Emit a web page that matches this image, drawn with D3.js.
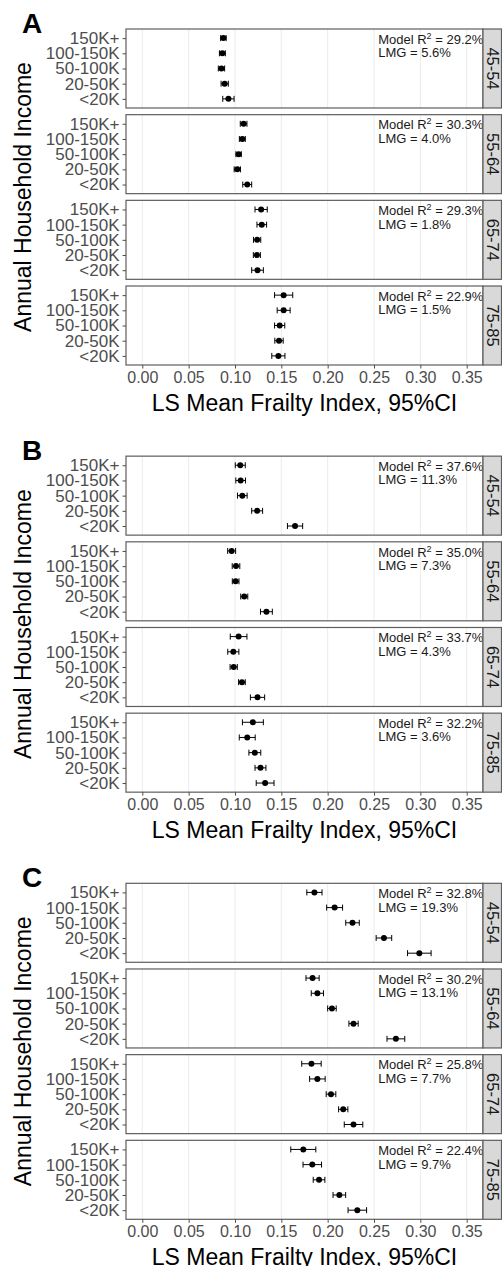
<!DOCTYPE html>
<html>
<head>
<meta charset="utf-8">
<script src="https://cdn.jsdelivr.net/npm/d3@7"></script>
<style>
  body { margin: 0; background: #fff; }
  text { font-family: "Liberation Sans", Arial, sans-serif; }
</style>
</head>
<body>
<div id="chart"></div>
<script>
// Categories
const panelLabels = ["A", "B", "C"];
const ageGroups = ["45-54", "55-64", "65-74", "75-85"];
const incomeLevels = ["150K+", "100-150K", "50-100K", "20-50K", "<20K"];
const xTicks = [0, 0.05, 0.1, 0.15, 0.2, 0.25, 0.3, 0.35];

// LS mean frailty index per panel, rows = age group, cols = income level
const meansA = [
  [0.0875, 0.0864, 0.0854, 0.0889, 0.0929],
  [0.1093, 0.1079, 0.1039, 0.1025, 0.1132],
  [0.1282, 0.1289, 0.1239, 0.1236, 0.1243],
  [0.1525, 0.1525, 0.1482, 0.1475, 0.1468]
];
const errA = [
  [0.0030, 0.0032, 0.0034, 0.0039, 0.0061],
  [0.0036, 0.0032, 0.0029, 0.0034, 0.0048],
  [0.0066, 0.0052, 0.0039, 0.0038, 0.0063],
  [0.0098, 0.0070, 0.0055, 0.0045, 0.0071]
];
const meansB = [
  [0.1057, 0.1061, 0.1079, 0.1239, 0.1648],
  [0.0964, 0.1011, 0.1007, 0.1100, 0.1339],
  [0.1039, 0.0982, 0.0986, 0.1075, 0.1243],
  [0.1193, 0.1132, 0.1214, 0.1275, 0.1325]
];
const errB = [
  [0.0054, 0.0052, 0.0052, 0.0059, 0.0082],
  [0.0043, 0.0041, 0.0036, 0.0038, 0.0064],
  [0.0090, 0.0060, 0.0039, 0.0036, 0.0077],
  [0.0113, 0.0086, 0.0064, 0.0059, 0.0096]
];
const meansC = [
  [0.1857, 0.2075, 0.2268, 0.2607, 0.2989],
  [0.1837, 0.1889, 0.2046, 0.2279, 0.2736],
  [0.1825, 0.1889, 0.2036, 0.2168, 0.2279],
  [0.1737, 0.1834, 0.1907, 0.2126, 0.2320]
];
const errC = [
  [0.0082, 0.0086, 0.0073, 0.0084, 0.0127],
  [0.0071, 0.0066, 0.0046, 0.0050, 0.0096],
  [0.0105, 0.0084, 0.0052, 0.0050, 0.0100],
  [0.0135, 0.0100, 0.0063, 0.0068, 0.0100]
];

// Model R2 and LMG annotations (%)
const r2A = ["29.2", "30.3", "29.3", "22.9"];
const lmgA = ["5.6", "4.0", "1.8", "1.5"];
const r2B = ["37.6", "35.0", "33.7", "32.2"];
const lmgB = ["11.3", "7.3", "4.3", "3.6"];
const r2C = ["32.8", "30.2", "25.8", "22.4"];
const lmgC = ["19.3", "13.1", "7.7", "9.7"];

const panels = [
  { label: panelLabels[0], means: meansA, err: errA, r2: r2A, lmg: lmgA },
  { label: panelLabels[1], means: meansB, err: errB, r2: r2B, lmg: lmgB },
  { label: panelLabels[2], means: meansC, err: errC, r2: r2C, lmg: lmgC }
];

const width = 502, height = 1266;
const panelStep = 427.15;
const plotLeft = 126, plotRight = 483, plotTop = 29, plotBottom = 365;
const stripWidth = 18.5;

const svg = d3.select("#chart").append("svg")
  .attr("width", width)
  .attr("height", height);

const x = d3.scaleLinear()
  .domain([-0.0176, 0.3676])
  .range([plotLeft, plotRight]);

const facetY = d3.scaleBand()
  .domain(ageGroups)
  .range([plotTop, plotBottom])
  .paddingInner(0.078)
  .paddingOuter(0);

panels.forEach((p, pi) => {
  const g = svg.append("g").attr("transform", `translate(0,${pi * panelStep})`);

  // panel letter
  g.append("text")
    .attr("x", 22)
    .attr("y", 33)
    .style("font-size", "28px")
    .style("font-weight", "bold")
    .attr("fill", "#000")
    .text(p.label);

  ageGroups.forEach((age, ai) => {
    const top = facetY(age);
    const h = facetY.bandwidth();
    const fg = g.append("g").attr("transform", `translate(0,${top})`);

    const y = d3.scalePoint()
      .domain(incomeLevels)
      .range([0, h])
      .padding(0.6);

    // panel background + grid
    fg.append("rect")
      .attr("x", plotLeft).attr("y", 0)
      .attr("width", plotRight - plotLeft).attr("height", h)
      .attr("fill", "#fff");

    fg.selectAll(".grid")
      .data(xTicks)
      .enter()
      .append("line")
      .attr("x1", (d) => x(d)).attr("x2", (d) => x(d))
      .attr("y1", 0).attr("y2", h)
      .attr("stroke", "#ebebeb")
      .attr("stroke-width", 1);

    // annotation
    const ann = fg.append("text")
      .attr("x", x(0.2545))
      .attr("y", 14.7)
      .style("font-size", "13px")
      .attr("fill", "#1a1a1a");
    ann.append("tspan").text("Model  R");
    ann.append("tspan").attr("dy", -5).style("font-size", "9px").text("2");
    ann.append("tspan").attr("dy", 5).text(" = " + p.r2[ai] + "%");
    fg.append("text")
      .attr("x", x(0.2545))
      .attr("y", 28.3)
      .style("font-size", "13px")
      .attr("fill", "#1a1a1a")
      .text("LMG  = " + p.lmg[ai] + "%");

    const rows = incomeLevels.map((lvl, li) => ({
      lvl,
      mean: p.means[ai][li],
      lo: p.means[ai][li] - p.err[ai][li],
      hi: p.means[ai][li] + p.err[ai][li]
    }));

    // error bars
    const eb = fg.selectAll(".eb").data(rows).enter().append("g");
    eb.append("line")
      .attr("x1", (d) => x(d.lo)).attr("x2", (d) => x(d.hi))
      .attr("y1", (d) => y(d.lvl)).attr("y2", (d) => y(d.lvl))
      .attr("stroke", "#000").attr("stroke-width", 1);
    eb.append("line")
      .attr("x1", (d) => x(d.lo)).attr("x2", (d) => x(d.lo))
      .attr("y1", (d) => y(d.lvl) - 3).attr("y2", (d) => y(d.lvl) + 3)
      .attr("stroke", "#000").attr("stroke-width", 1);
    eb.append("line")
      .attr("x1", (d) => x(d.hi)).attr("x2", (d) => x(d.hi))
      .attr("y1", (d) => y(d.lvl) - 3).attr("y2", (d) => y(d.lvl) + 3)
      .attr("stroke", "#000").attr("stroke-width", 1);

    fg.selectAll(".pt").data(rows).enter().append("circle")
      .attr("cx", (d) => x(d.mean))
      .attr("cy", (d) => y(d.lvl))
      .attr("r", 3)
      .attr("fill", "#000");

    // frame
    fg.append("rect")
      .attr("x", plotLeft).attr("y", 0)
      .attr("width", plotRight - plotLeft).attr("height", h)
      .attr("fill", "none")
      .attr("stroke", "#5e5e5e")
      .attr("stroke-width", 1.2);

    // strip
    fg.append("rect")
      .attr("x", plotRight).attr("y", 0)
      .attr("width", stripWidth).attr("height", h)
      .attr("fill", "#d9d9d9")
      .attr("stroke", "#5e5e5e")
      .attr("stroke-width", 1.2);
    fg.append("text")
      .attr("transform", `translate(${plotRight + 10},${h / 2}) rotate(90)`)
      .attr("text-anchor", "middle")
      .attr("dy", "0.35em")
      .style("font-size", "16.5px")
      .attr("fill", "#1a1a1a")
      .text(age);

    // y axis
    const yAxis = fg.append("g")
      .attr("transform", `translate(${plotLeft},0)`)
      .call(d3.axisLeft(y).tickSize(3.5).tickPadding(3));
    yAxis.select(".domain").remove();
    yAxis.selectAll("line").attr("stroke", "#4d4d4d");
    yAxis.selectAll("text")
      .style("font-size", "17px")
      .style("font-family", '"Liberation Sans", Arial, sans-serif')
      .attr("fill", "#4d4d4d");
  });

  // x axis
  const xAxis = g.append("g")
    .attr("transform", `translate(0,${plotBottom})`)
    .call(d3.axisBottom(x).tickValues(xTicks).tickFormat(d3.format(".2f")).tickSize(3.5).tickPadding(3));
  xAxis.select(".domain").remove();
  xAxis.selectAll("line").attr("stroke", "#4d4d4d");
  xAxis.selectAll("text")
    .style("font-size", "16px")
    .style("font-family", '"Liberation Sans", Arial, sans-serif')
    .attr("fill", "#4d4d4d");

  // axis titles
  g.append("text")
    .attr("x", (plotLeft + plotRight) / 2)
    .attr("y", 410.5)
    .attr("text-anchor", "middle")
    .style("font-size", "23px")
    .attr("fill", "#000")
    .text("LS Mean Frailty Index, 95%CI");

  g.append("text")
    .attr("transform", `translate(31,${(plotTop + plotBottom) / 2}) rotate(-90)`)
    .attr("text-anchor", "middle")
    .style("font-size", "23px")
    .attr("fill", "#000")
    .text("Annual Household Income");
});
</script>
</body>
</html>
